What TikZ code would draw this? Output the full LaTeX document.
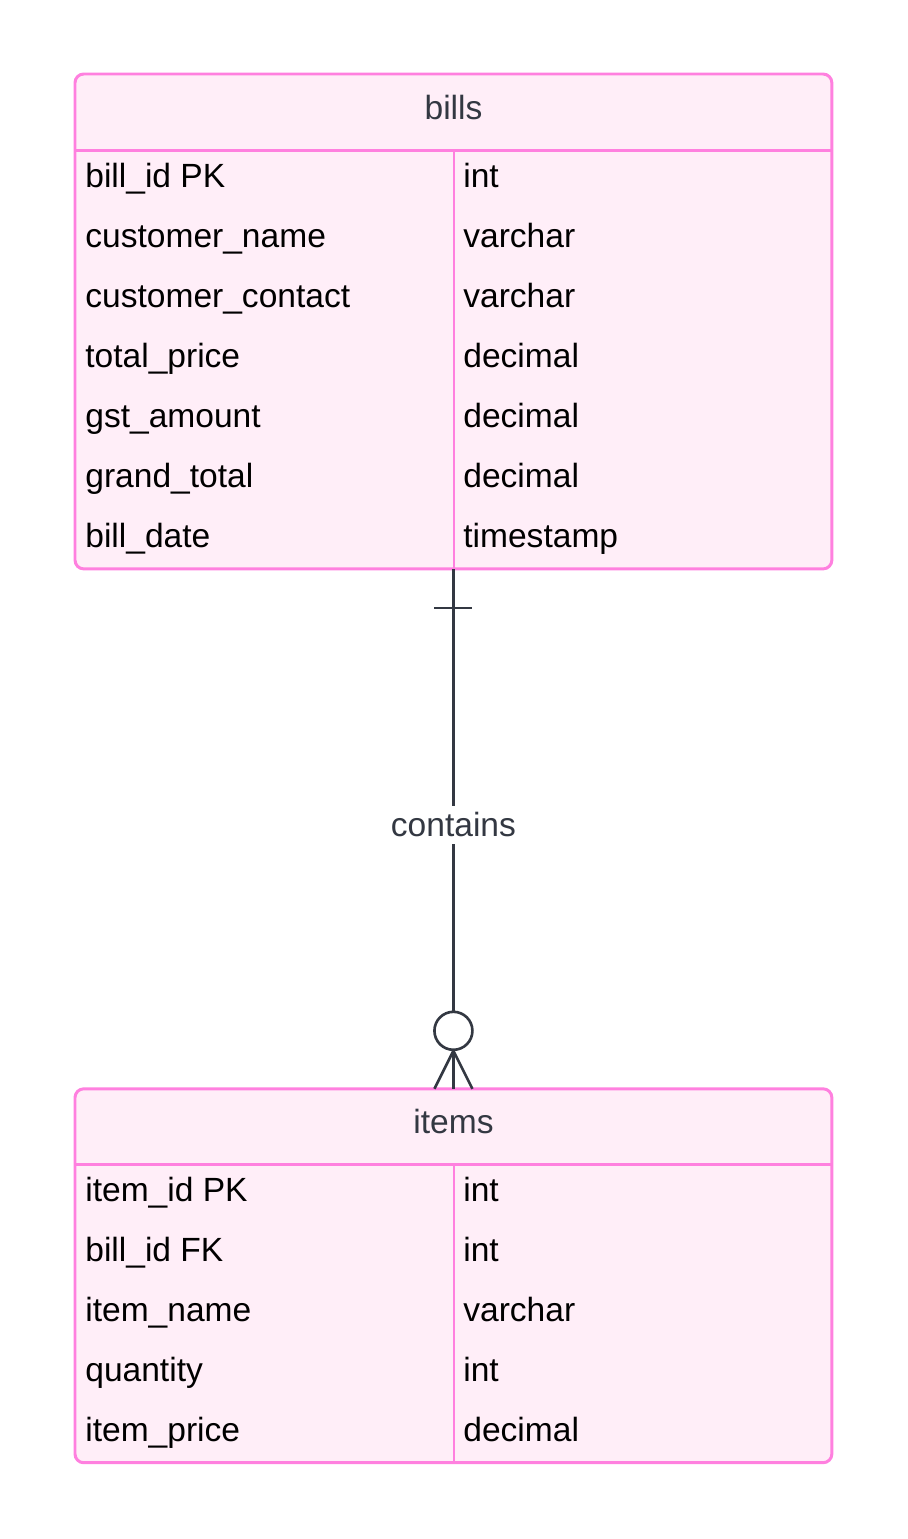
\documentclass[tikz,border=0pt]{standalone}
\usepackage{fontspec}
\setmainfont{Liberation Sans}
\usetikzlibrary{positioning}
\definecolor{erpink}{RGB}{255,128,223}
\definecolor{erfill}{RGB}{255,238,248}
\definecolor{erline}{RGB}{51,56,66}
\newcommand{\rowh}{60}
\newcommand{\erfont}{\fontsize{19.1}{23}\selectfont}

\begin{document}
\begin{tikzpicture}[x=0.02cm,y=-0.02cm,
    table/.style={draw=erpink,fill=erfill,line width=1.7pt,rounded corners=5pt,inner sep=0pt,outer sep=0pt,anchor=north west},
    sep/.style={draw=erpink,line width=1.7pt},
    field/.style={anchor=base west,inner sep=0pt,font=\erfont},
    title/.style={anchor=base,inner sep=0pt,text=erline,font=\erfont},
    rel/.style={draw=erline,line width=1.5pt}]
                    \useasboundingbox (0,0) rectangle (908,1539);
                    % bills
                    \node[table,minimum width=15.14cm,minimum height=9.9cm] (bills) at (75,74) {};
                    \node[title] (billst) at (453.5,119) {bills};
                    \draw[sep] (bills.west |- 0,150) -- (bills.east |- 0,150);
                    \draw[sep] (454,150) -- (bills.south -| 454,0);
                    \foreach \name/\type [count=\i] in {bill\_id PK/int,customer\_name/varchar,customer\_contact/varchar,total\_price/decimal,gst\_amount/decimal,grand\_total/decimal,bill\_date/timestamp}{
                    \node[field] (bn\i) at (85,{187+(\i-1)*\rowh}) {\name};
                    \node[field] (bt\i) at (463,{187+(\i-1)*\rowh}) {\type};
                    }
                    % items
                    \node[table,minimum width=15.14cm,minimum height=7.48cm,below=10.4cm of bills.south,anchor=north] (items) {};
                    \node[title] (itemst) at (453.5,1133) {items};
                    \draw[sep] (items.west |- 0,1164) -- (items.east |- 0,1164);
                    \draw[sep] (454,1164) -- (items.south -| 454,0);
                    \foreach \name/\type [count=\i] in {item\_id PK/int,bill\_id FK/int,item\_name/varchar,quantity/int,item\_price/decimal}{
                    \node[field] (in\i) at (85,{1201+(\i-1)*\rowh}) {\name};
                    \node[field] (it\i) at (463,{1201+(\i-1)*\rowh}) {\type};
                    }
                    % relation
                    \draw[rel] (bills.south) -- node[fill=white,text=erline,font=\erfont,inner sep=4pt,yshift=0.08cm] (contains) {contains} (items.north);
                    \draw[rel] (bills.south) ++(-19,39) -- ++(38,0);
                    \draw[rel] (items.north) ++(-19,0) -- ++(19,-38) -- ++(19,38);
                    \draw[rel,fill=white] (items.north) ++(0,-58) circle[radius=0.38cm];
                    \end{tikzpicture}
\end{document}
